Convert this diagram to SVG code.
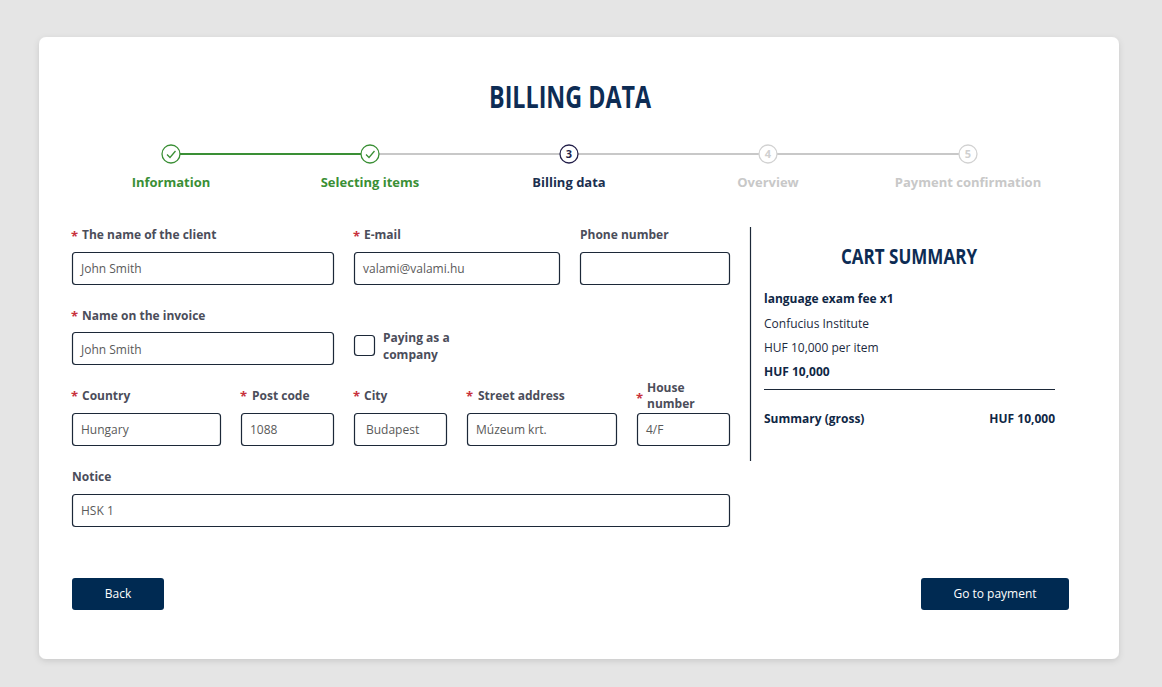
<svg xmlns="http://www.w3.org/2000/svg" width="1162" height="687" viewBox="0 0 1162 687">
<style>
text{font-family:"Open Sans","Liberation Sans",sans-serif}
.lbl{font-size:12px;font-weight:700;fill:#4b4d5a}
.ast{font-size:13px;font-weight:700;fill:#c8323c}
.inp{fill:#fff;stroke:#1c2838;stroke-width:1.2}
.val{font-size:12px;fill:#5a5a5a}
.step{font-size:13px;font-weight:700;text-anchor:middle}
.cart{font-size:12px;fill:#1c2a40}
.cartb{font-size:12px;font-weight:700;fill:#0f2745}
.btn{fill:#002a52}
.btnt{font-size:12px;fill:#fff;text-anchor:middle}
.ttl{font-weight:700;fill:#0d2c54;text-anchor:middle}
</style>
<defs>
<filter id="sh" x="-5%" y="-5%" width="110%" height="115%">
<feDropShadow dx="0" dy="2" stdDeviation="3" flood-color="#000" flood-opacity="0.12"/>
</filter>
</defs>
<rect width="1162" height="687" fill="#e5e5e5"/>
<rect x="39" y="37" width="1080" height="622" rx="7" fill="#fff" filter="url(#sh)"/>
<text class="ttl" x="570" y="108" font-size="31" textLength="162" lengthAdjust="spacingAndGlyphs">BILLING DATA</text>

<!-- stepper -->
<g id="stepper">
<line x1="180" y1="154" x2="361" y2="154" stroke="#3a8f35" stroke-width="2"/>
<line x1="379" y1="154" x2="560" y2="154" stroke="#c8c8c8" stroke-width="2"/>
<line x1="578" y1="154" x2="759" y2="154" stroke="#c8c8c8" stroke-width="2"/>
<line x1="777" y1="154" x2="959" y2="154" stroke="#c8c8c8" stroke-width="2"/>
<circle cx="171" cy="154" r="9" fill="#fff" stroke="#3a8f35" stroke-width="1.3"/>
<polyline points="167,154.5 170,157.5 175.5,151" fill="none" stroke="#3a8f35" stroke-width="1.3"/>
<circle cx="370" cy="154" r="9" fill="#fff" stroke="#3a8f35" stroke-width="1.3"/>
<polyline points="366,154.5 369,157.5 374.5,151" fill="none" stroke="#3a8f35" stroke-width="1.3"/>
<circle cx="569" cy="154" r="9" fill="#fff" stroke="#231f4a" stroke-width="1.3"/>
<text x="569" y="158" font-size="11" font-weight="700" fill="#231f4a" text-anchor="middle">3</text>
<circle cx="768" cy="154" r="9" fill="#fff" stroke="#d2d2d2" stroke-width="1.3"/>
<text x="768" y="158" font-size="11" font-weight="700" fill="#d0d0d0" text-anchor="middle">4</text>
<circle cx="968" cy="154" r="9" fill="#fff" stroke="#d2d2d2" stroke-width="1.3"/>
<text x="968" y="158" font-size="11" font-weight="700" fill="#d0d0d0" text-anchor="middle">5</text>
<text class="step" x="171" y="187" fill="#3a8f35">Information</text>
<text class="step" x="370" y="187" fill="#3a8f35">Selecting items</text>
<text class="step" x="569" y="187" fill="#1b2f4f">Billing data</text>
<text class="step" x="768" y="187" fill="#c8c8c8" font-weight="400" font-size="12.5">Overview</text>
<text class="step" x="968" y="187" fill="#c8c8c8" font-weight="400" font-size="12.5">Payment confirmation</text>
</g>

<!-- form -->
<g id="f-client">
<text class="ast" x="71" y="241">*</text><text class="lbl" x="82" y="239">The name of the client</text>
<rect class="inp" x="72.5" y="252.5" width="261" height="32" rx="3"/>
<text class="val" x="81" y="273">John Smith</text>
</g>
<g id="f-email">
<text class="ast" x="353" y="241">*</text><text class="lbl" x="364" y="239">E-mail</text>
<rect class="inp" x="354.5" y="252.5" width="205" height="32" rx="3"/>
<text class="val" x="363" y="273">valami@valami.hu</text>
</g>
<g id="f-phone">
<text class="lbl" x="580" y="239">Phone number</text>
<rect class="inp" x="580.5" y="252.5" width="149" height="32" rx="3"/>
</g>
<g id="f-invoice">
<text class="ast" x="71" y="321">*</text><text class="lbl" x="82" y="320">Name on the invoice</text>
<rect class="inp" x="72.5" y="332.5" width="261" height="32" rx="3"/>
<text class="val" x="81" y="354">John Smith</text>
</g>
<g id="f-company">
<rect class="inp" x="354.5" y="335.5" width="20" height="20" rx="3"/>
<text class="lbl" x="383" y="342">Paying as a</text>
<text class="lbl" x="383" y="359">company</text>
</g>
<g id="f-country">
<text class="ast" x="71" y="401">*</text><text class="lbl" x="82" y="400">Country</text>
<rect class="inp" x="72.5" y="413.5" width="148" height="32" rx="3"/>
<text class="val" x="81" y="434">Hungary</text>
</g>
<g id="f-post">
<text class="ast" x="240" y="401">*</text><text class="lbl" x="252" y="400">Post code</text>
<rect class="inp" x="241.5" y="413.5" width="92" height="32" rx="3"/>
<text class="val" x="250" y="434">1088</text>
</g>
<g id="f-city">
<text class="ast" x="353" y="401">*</text><text class="lbl" x="364" y="400">City</text>
<rect class="inp" x="354.5" y="413.5" width="92" height="32" rx="3"/>
<text class="val" x="366" y="434">Budapest</text>
</g>
<g id="f-street">
<text class="ast" x="466" y="401">*</text><text class="lbl" x="478" y="400">Street address</text>
<rect class="inp" x="467.5" y="413.5" width="149" height="32" rx="3"/>
<text class="val" x="476" y="434">Múzeum krt.</text>
</g>
<g id="f-house">
<text class="ast" x="636" y="403">*</text>
<text class="lbl" x="647" y="392" font-size="11">House</text>
<text class="lbl" x="647" y="407.5" font-size="11">number</text>
<rect class="inp" x="637.5" y="413.5" width="92" height="32" rx="3"/>
<text class="val" x="646" y="434">4/F</text>
</g>
<g id="f-notice">
<text class="lbl" x="72" y="481">Notice</text>
<rect class="inp" x="72.5" y="494.5" width="657" height="32" rx="3"/>
<text class="val" x="81" y="515">HSK 1</text>
</g>

<line x1="750.5" y1="227" x2="750.5" y2="461" stroke="#1c2838" stroke-width="1.2"/>

<!-- cart -->
<g id="cart">
<text class="ttl" x="909" y="264" font-size="22" textLength="136" lengthAdjust="spacingAndGlyphs">CART SUMMARY</text>
<text class="cartb" x="764" y="303">language exam fee x1</text>
<text class="cart" x="764" y="328">Confucius Institute</text>
<text class="cart" x="764" y="352">HUF 10,000 per item</text>
<text class="cartb" x="764" y="376">HUF 10,000</text>
<line x1="764" y1="389.5" x2="1055" y2="389.5" stroke="#1c2838" stroke-width="1.2"/>
<text class="cartb" x="764" y="423">Summary (gross)</text>
<text class="cartb" x="1055" y="423" text-anchor="end">HUF 10,000</text>
</g>

<!-- buttons -->
<g id="btn-back">
<rect class="btn" x="72" y="578" width="92" height="32" rx="3"/>
<text class="btnt" x="118" y="598">Back</text>
</g>
<g id="btn-pay">
<rect class="btn" x="921" y="578" width="148" height="32" rx="3"/>
<text class="btnt" x="995" y="598">Go to payment</text>
</g>
</svg>
